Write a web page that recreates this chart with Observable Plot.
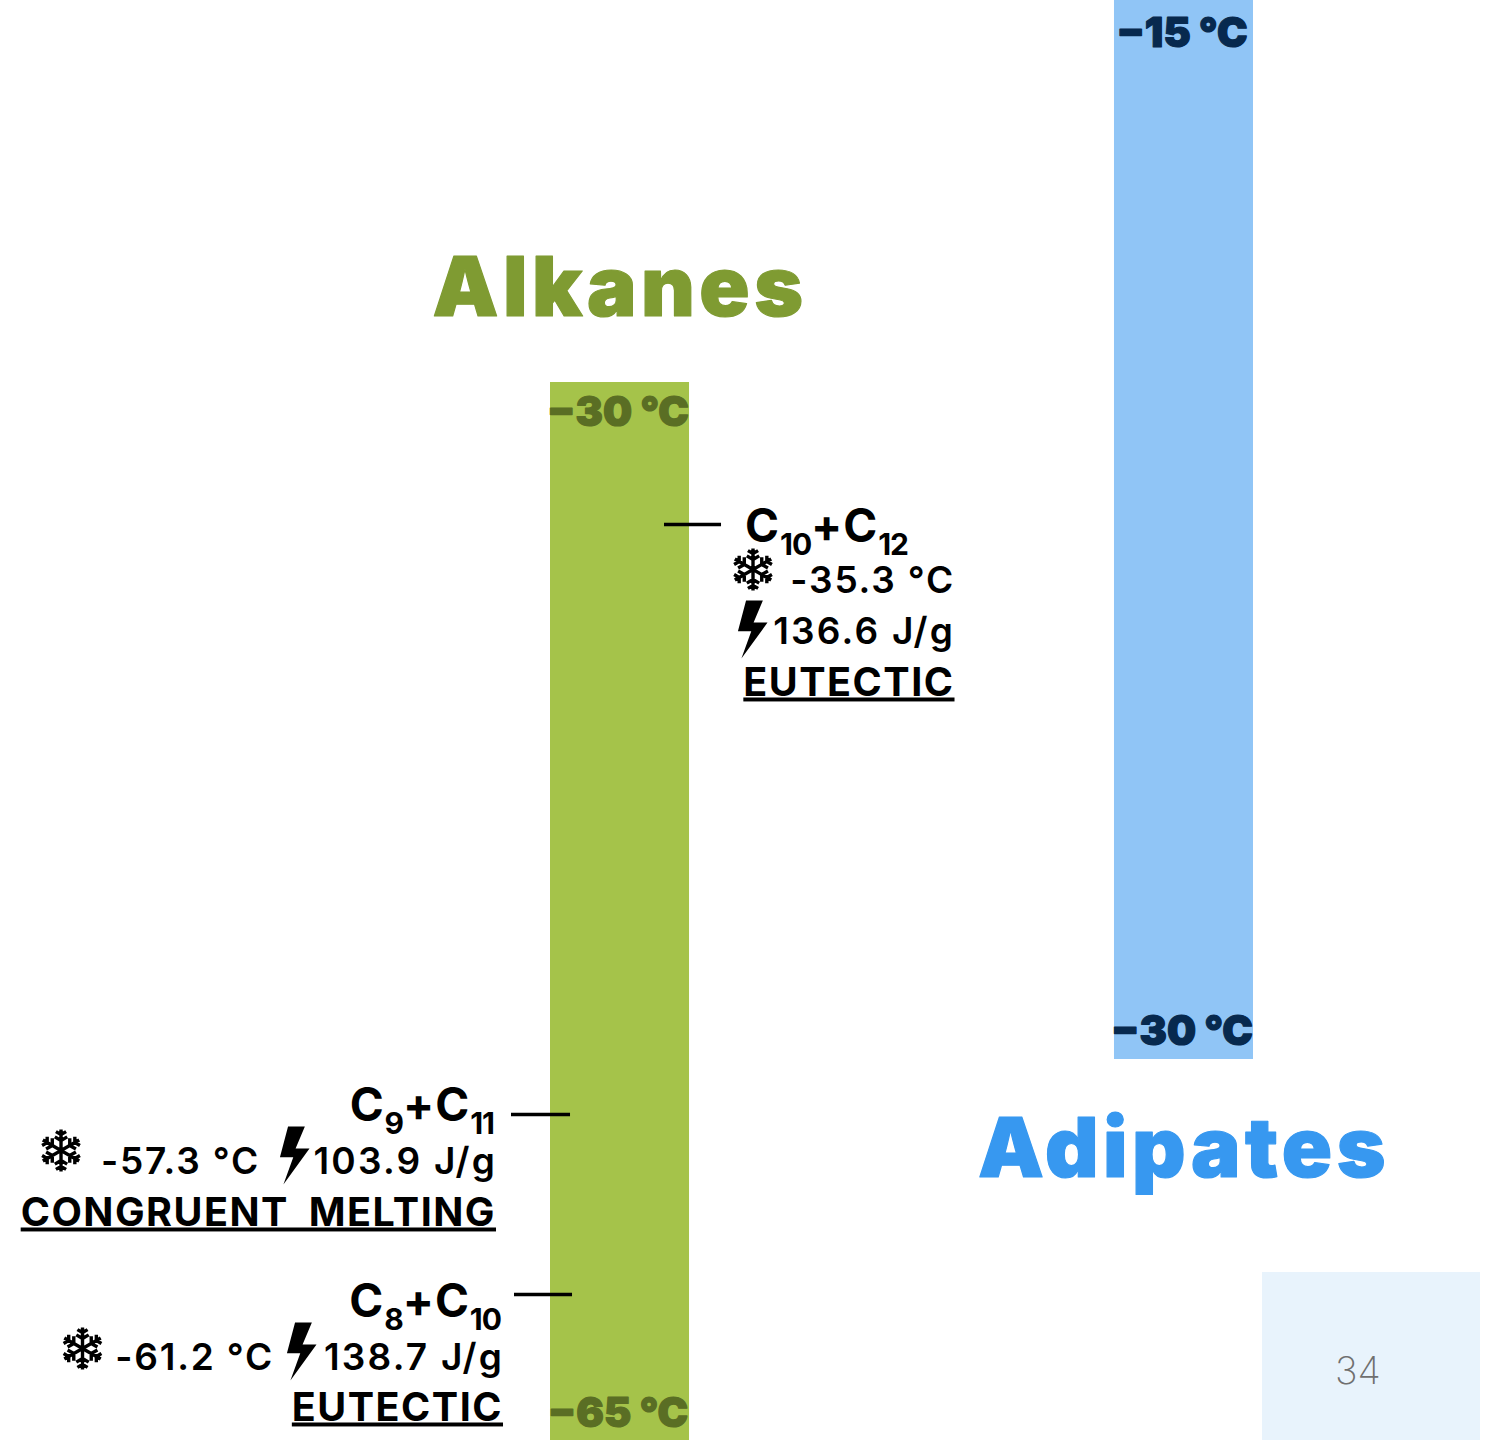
<!DOCTYPE html>
<html><head><meta charset="utf-8">
<script src="https://cdn.jsdelivr.net/npm/d3@7"></script>
<script src="https://cdn.jsdelivr.net/npm/@observablehq/plot@0.6"></script>
<style>
html,body{margin:0;background:#fff;width:1494px;height:1440px;overflow:hidden}
#chart{position:relative;width:1494px;height:1440px}
#chart svg{position:absolute;left:0;top:0;background:transparent}
#page{position:absolute;left:1262px;top:1272px;width:218px;height:168px;background:#e8f3fc}
#page span{position:absolute;left:73px;top:76px;font:200 38px/44px Inter,sans-serif;color:#6f6f6f}
</style></head><body>
<div id="chart"><div id="page"><span>34</span></div></div>
<script>
// Data
const families = ["Alkanes", "Adipates"];
const rangeHigh = [-30, -15];
const rangeLow = [-65, -30];
const compounds = ["C10+C12", "C9+C11", "C8+C10"];
const meltingC = [-35.3, -57.3, -61.2];
const enthalpyJg = [136.6, 103.9, 138.7];
const behaviour = ["EUTECTIC", "CONGRUENT MELTING", "EUTECTIC"];

const SANS = "Inter, sans-serif", HEAVY = "Inter, sans-serif";
const green = "#a5c34a", greenTitle = "#7f9b32", greenDark = "#5a6e24";
const blue = "#90c5f6", blueTitle = "#3798f0", blueDark = "#07294e";

const boltSymbol = {draw(c, size) {
  const r = Math.sqrt(size / Math.PI), h = r * 2;
  const p = [[.17,-.5],[-.12,-.5],[-.26,.03],[-.03,.03],[-.2,.5],[.25,-.12],[.01,-.12]];
  p.forEach(([x, y], i) => i ? c.lineTo(x * h, y * h) : c.moveTo(x * h, y * h));
  c.closePath();
}};
const flakeSymbol = {draw(c, size) {
  const r = Math.sqrt(size / Math.PI);
  for (let k = 0; k < 6; k++) {
    const a = k * Math.PI / 3 + Math.PI / 2, ux = Math.cos(a), uy = Math.sin(a);
    c.moveTo(0, 0); c.lineTo(ux * r, uy * r);
    for (const [t, l] of [[.48, .34], [.76, .28]]) for (const s of [-1, 1]) {
      const b = a + s * Math.PI / 3;
      c.moveTo(ux * r * t, uy * r * t);
      c.lineTo(ux * r * t + Math.cos(b) * r * l, uy * r * t + Math.sin(b) * r * l);
    }
  }
}};

// Plot.text has no channel for these text styles, so they are applied per mark
const styled = fn => (index, scales, values, dims, ctx, next) => {
  const g = next(index, scales, values, dims, ctx);
  g.querySelectorAll("text").forEach(fn);
  return g;
};
const spaced = px => styled(el => { el.style.letterSpacing = px + "px"; });
const underlined = styled(el => {
  el.style.letterSpacing = "1.5px";
  el.style.wordSpacing = "9px";
  el.style.textDecoration = "underline";
  el.style.textDecorationThickness = "3px";
  el.style.textUnderlineOffset = "6px";
});
const withSubscripts = styled(el => {
  const s = d3.select(el), t = el.textContent;
  s.text(null);
  el.style.letterSpacing = "0.9px";
  t.match(/[A-Z+]+|\d+/g).forEach((part, i) => {
    const isSub = /\d/.test(part);
    const span = s.append("tspan").text(part);
    if (isSub) span.attr("font-size", 30).attr("dy", 13).attr("letter-spacing", "-1px");
    else if (i > 0) span.attr("dy", -13);
  });
});

const xScale = {type: "band", domain: families, range: [550, 1253], paddingInner: 0.7535, paddingOuter: 0, round: false, axis: null};
const base = {width: 1494, height: 1440, margin: 0, x: xScale, style: {background: "transparent"}};
const bodyText = (t, y, dx, dy, anchor, extra = {}) =>
  Plot.text([t], {x: () => families[0], y: () => y, dx, dy, text: d => d, textAnchor: anchor, lineAnchor: "bottom",
    fontFamily: SANS, fontSize: 37, fontWeight: 600, fill: "#000", render: spaced(1.8), ...extra});
const heavyText = (t, fam, y, dx, dy, size, fill, render) =>
  Plot.text([t], {x: () => fam, y: () => y, dx, dy, text: d => d, lineAnchor: "bottom",
    fontFamily: HEAVY, fontSize: size, fontWeight: 900, fill, stroke: fill, strokeWidth: 1.2, render});

// dx are measured from the Alkanes bar centre, dy from the tick level
const layouts = [
  {inL: 114, inR: -32, nameDx: 125, nameAnchor: "start", nameDy: 17, tempDx: 335, tempDy: 68, flakeDx: 133, flakeDy: 45,
   boltDx: 133, boltDy: 105, enthDx: 335, enthDy: 119, behDx: 334.5, behDy: 171},
  {inL: -39, inR: 119, nameDx: -126, nameAnchor: "end", nameDy: 6, tempDx: -360, tempDy: 59, flakeDx: -559, flakeDy: 36,
   boltDx: -325, boltDy: 41, enthDx: -123, enthDy: 59, behDx: -124, behDy: 111},
  {inL: -36, inR: 117, nameDx: -119, nameAnchor: "end", nameDy: 22, tempDx: -346, tempDy: 75, flakeDx: -537.5, flakeDy: 54,
   boltDx: -318, boltDy: 57, enthDx: -116, enthDy: 75, behDx: -117, behDy: 126}
];

const alkMarks = [
  Plot.barY([0], {x: () => families[0], y1: () => rangeHigh[0], y2: () => rangeLow[0], fill: green}),
  heavyText(`\u2212${-rangeHigh[0]} °C`, families[0], rangeHigh[0], -2, 43, 41, greenDark),
  heavyText(`\u2212${-rangeLow[0]} °C`, families[0], rangeLow[0], -2, -14, 41, greenDark),
  heavyText(families[0], families[0], rangeHigh[0], 0, -67, 83, greenTitle, spaced(4.5))
];
compounds.forEach((name, i) => {
  const L = layouts[i], y = meltingC[i], X = () => families[0];
  alkMarks.push(
    Plot.tickY([0], {x: X, y: () => y, insetLeft: L.inL, insetRight: L.inR, stroke: "#000", strokeWidth: 3.5}),
    bodyText(name, y, L.nameDx, L.nameDy, L.nameAnchor, {fontSize: 46, fontWeight: 700, render: withSubscripts}),
    bodyText(`${meltingC[i]} °C`, y, L.tempDx, L.tempDy, "end"),
    bodyText(`${enthalpyJg[i]} J/g`, y, L.enthDx, L.enthDy, "end", {render: spaced(2.2)}),
    bodyText(behaviour[i], y, L.behDx, L.behDy, "end", {fontSize: 39.5, fontWeight: 700, render: underlined}),
    Plot.dot([0], {x: X, y: () => y, dx: L.flakeDx, dy: L.flakeDy, r: 21, symbol: flakeSymbol, fill: "none", stroke: "#000", strokeWidth: 3.4}),
    Plot.dot([0], {x: X, y: () => y, dx: L.boltDx, dy: L.boltDy, r: 29, symbol: boltSymbol, fill: "#000", stroke: "none"})
  );
});

// The picture spaces its alkane temperatures unevenly: a piecewise map reproduces that
const alkLevels = d3.scaleLinear().domain([-30, ...meltingC, -65]).range([382, 524, 1114, 1294, 1440]);
const alkPlot = Plot.plot({...base, y: {transform: alkLevels, domain: [0, 1440], range: [0, 1440], axis: null}, marks: alkMarks});

const adiPlot = Plot.plot({...base, y: {domain: [rangeHigh[1], rangeLow[1]], range: [0, 1059], axis: null}, marks: [
  Plot.barY([0], {x: () => families[1], y1: () => rangeHigh[1], y2: () => rangeLow[1], fill: blue}),
  heavyText(`\u2212${-rangeHigh[1]} °C`, families[1], rangeHigh[1], -2, 46, 41, blueDark),
  heavyText(`\u2212${-rangeLow[1]} °C`, families[1], rangeLow[1], -2, -15, 41, blueDark),
  heavyText(families[1], families[1], rangeLow[1], 0, 117, 83, blueTitle, spaced(4.5))
]});

document.getElementById("chart").append(alkPlot, adiPlot);
</script>
</body></html>
